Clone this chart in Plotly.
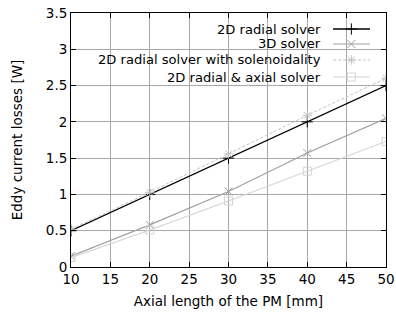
import plotly.graph_objects as go

x_len = [10, 20, 30, 40, 50]
radial_2d = [0.50, 1.00, 1.50, 2.00, 2.50]
solver_3d = [0.15, 0.58, 1.04, 1.57, 2.05]
radial_sol = [0.52, 1.03, 1.56, 2.09, 2.60]
radial_axial = [0.13, 0.51, 0.91, 1.32, 1.73]

names = ["2D radial solver", "3D solver", "2D radial solver with solenoidality", "2D radial & axial solver"]
series = [radial_2d, solver_3d, radial_sol, radial_axial]
colors = ["#000000", "#a0a0a0", "#c4c4c4", "#d4d4d4"]
symbols = ["cross-thin-open", "x-thin-open", "asterisk-open", "square-open"]
dashes = ["solid", "solid", "3px,2px", "solid"]
widths = [1.3, 1.2, 1.0, 1.2]

FONT = "DejaVu Sans"
FS = 13.5
FS_LEG = 13.1
fig = go.Figure()

for name, ys, c, s, d, w in zip(names, series, colors, symbols, dashes, widths):
    fig.add_trace(go.Scatter(
        x=x_len, y=ys, mode="lines+markers", name=name,
        line=dict(color=c, width=w, dash=d),
        marker=dict(symbol=s, size=8, color=c, line=dict(color=c, width=1)),
        showlegend=False,
    ))

# manual legend (text right, sample on the right) on hidden overlay axes
leg_y = [0.937, 0.878, 0.815, 0.748]
for name, ly, c, s, d, w in zip(names, leg_y, colors, symbols, dashes, widths):
    fig.add_trace(go.Scatter(
        x=[0.832, 0.949], y=[ly, ly], xaxis="x2", yaxis="y2", mode="lines",
        line=dict(color=c, width=w, dash=d), showlegend=False, hoverinfo="skip"))
    fig.add_trace(go.Scatter(
        x=[0.890], y=[ly], xaxis="x2", yaxis="y2", mode="markers",
        marker=dict(symbol=s, size=8, color=c, line=dict(color=c, width=1)),
        showlegend=False, hoverinfo="skip"))
    fig.add_annotation(text=name, xref="paper", yref="paper", x=0.80, y=ly,
                       xanchor="right", yanchor="middle", showarrow=False,
                       font=dict(family=FONT, size=FS_LEG, color="#000"))

# opaque legend box hiding the grid
fig.add_shape(type="rect", xref="paper", yref="paper", x0=0, x1=1, y0=0.728, y1=1,
              fillcolor="white", line=dict(width=0), layer="between")

axis_common = dict(showline=True, linecolor="#000", linewidth=1, mirror="ticks",
                   ticks="inside", ticklen=5, tickcolor="#000", tickwidth=1,
                   showgrid=True, gridcolor="#a8a8a8", gridwidth=1, zeroline=False,
                   ticklabeloverflow="allow", automargin=False,
                   tickfont=dict(family=FONT, size=FS, color="#000"))

fig.update_layout(
    width=396, height=320, autosize=False,
    margin=dict(l=71, r=10, t=13, b=53),
    paper_bgcolor="white", plot_bgcolor="white",
    font=dict(family=FONT, size=FS, color="#000"),
    xaxis=dict(range=[10, 50], tickvals=[10, 15, 20, 25, 30, 35, 40, 45, 50],
               title=dict(text="Axial length of the PM [mm]", standoff=10,
                          font=dict(family=FONT, size=FS)), **axis_common),
    yaxis=dict(range=[0, 3.5], tickvals=[0, 0.5, 1, 1.5, 2, 2.5, 3, 3.5],
               ticktext=["0", "0.5", "1", "1.5", "2", "2.5", "3", "3.5"],
               title=dict(text="Eddy current losses [W]", standoff=20,
                          font=dict(family=FONT, size=FS)), **axis_common),
    xaxis2=dict(overlaying="x", range=[0, 1], visible=False, automargin=False),
    yaxis2=dict(overlaying="y", range=[0, 1], visible=False, automargin=False),
)

# remove the default 8px page margin so the figure fills the window exactly
fig.write_html("out.html",
               config={"responsive": False, "displayModeBar": False},
               post_script="document.body.style.margin='0';")
